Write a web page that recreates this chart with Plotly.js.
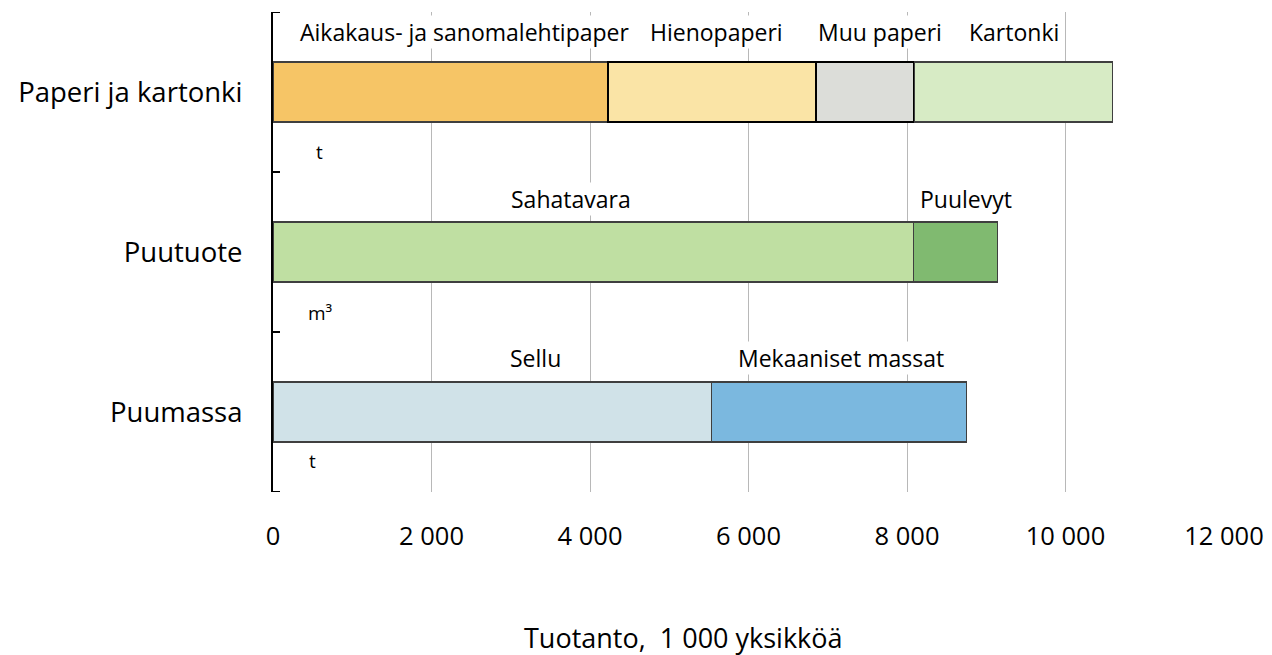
<!DOCTYPE html>
<html>
<head>
<meta charset="utf-8">
<script src="https://cdn.plot.ly/plotly-3.0.1.min.js"></script>
<style>html,body{margin:0;padding:0;background:#fff;}#chart{width:1272px;height:655px;}</style>
</head>
<body>
<div id="chart"></div>
<script>
// ---- data ----
var categories = ['Paperi ja kartonki', 'Puutuote', 'Puumassa'];
var units = ['t', 'm³', 't'];

var paperSegments = ['Aikakaus- ja sanomalehtipaper', 'Hienopaperi', 'Muu paperi', 'Kartonki'];
var paperValues = [4230, 2625, 1237, 2500];

var woodSegments = ['Sahatavara', 'Puulevyt'];
var woodValues = [8080, 1060];

var pulpSegments = ['Sellu', 'Mekaaniset massat'];
var pulpValues = [5530, 3220];

var xTickValues = [0, 2000, 4000, 6000, 8000, 10000, 12000];
var xTickLabels = ['0', '2 000', '4 000', '6 000', '8 000', '10 000', '12 000'];

var axisTitle = 'Tuotanto,  1 000 yksikköä';

// ---- styles ----
var FONT = '"Open Sans", "Noto Sans", sans-serif';
var groups = [
  {cat: categories[0], names: paperSegments, values: paperValues,
   colors: ['#F6C566', '#FAE4A6', '#DCDDD9', '#D7EBC5'],
   lines: [['#3f3f3f', 1.5], ['#000000', 2], ['#000000', 2], ['#3f3f3f', 1.5]],
   labelShift: [24, 4, 15, 1], labelY: 60},
  {cat: categories[1], names: woodSegments, values: woodValues,
   colors: ['#BFDFA2', '#80BA70'],
   lines: [['#3f3f3f', 1.5], ['#3f3f3f', 1.5]],
   labelShift: [-22, 11], labelY: 53},
  {cat: categories[2], names: pulpSegments, values: pulpValues,
   colors: ['#D0E2E8', '#7BB8DF'],
   lines: [['#3f3f3f', 1.5], ['#3f3f3f', 1.5]],
   labelShift: [43, 2], labelY: 54}
];
var unitShift = [[46, -60], [47, -61], [39, -49]];

var traces = [];
var annotations = [];
groups.forEach(function (g) {
  var cum = 0;
  g.names.forEach(function (n, i) {
    traces.push({
      type: 'bar', orientation: 'h',
      y: [g.cat], x: [g.values[i]], name: n,
      marker: {color: g.colors[i], line: {color: g.lines[i][0], width: g.lines[i][1]}},
      width: 0.375, hoverinfo: 'x+name'
    });
    annotations.push({
      x: cum + g.values[i] / 2, y: g.cat, xref: 'x', yref: 'y',
      text: n, showarrow: false, xanchor: 'center', yanchor: 'middle',
      xshift: g.labelShift[i], yshift: g.labelY,
      bgcolor: '#ffffff', borderpad: 0,
      font: {family: FONT, size: 23, color: '#000'}
    });
    cum += g.values[i];
  });
});
categories.forEach(function (c, i) {
  annotations.push({
    x: 0, y: c, xref: 'x', yref: 'y', text: units[i], showarrow: false,
    xanchor: 'center', yanchor: 'middle', xshift: unitShift[i][0], yshift: unitShift[i][1],
    font: {family: FONT, size: 19, color: '#000'}
  });
});
var L = 273, R = 48, T = 12, B = 163, W = 1272, H = 655;
annotations.push({
  x: (683 - L) / (W - L - R), y: (H - B - 637) / (H - T - B),
  xref: 'paper', yref: 'paper', text: axisTitle, showarrow: false,
  xanchor: 'center', yanchor: 'middle',
  font: {family: FONT, size: 27, color: '#000'}
});

// end ticks of the category axis (boundaries)
var tickFrac = 7 / (W - L - R);
var shapes = [-0.5, categories.length - 0.5].map(function (b) {
  return {type: 'line', xref: 'paper', yref: 'y', x0: 0, x1: tickFrac, y0: b, y1: b,
          line: {color: '#000', width: 2}};
});

var layout = {
  width: W, height: H,
  margin: {l: L, r: R, t: T, b: B},
  paper_bgcolor: '#fff', plot_bgcolor: '#fff',
  barmode: 'stack', showlegend: false,
  xaxis: {
    range: [0, 12000], tickvals: xTickValues, ticktext: xTickLabels,
    showgrid: true, gridcolor: '#b8b8b8', gridwidth: 1, zeroline: false,
    showline: false, ticks: '', ticklabelstandoff: 26,
    tickfont: {family: FONT, size: 25.5, color: '#000'}
  },
  yaxis: {
    type: 'category', categoryorder: 'array', categoryarray: categories,
    range: [2.5, -0.5], showgrid: false, zeroline: false,
    showline: true, linecolor: '#000', linewidth: 2,
    ticks: 'inside', tickson: 'boundaries', ticklen: 7, tickwidth: 2, tickcolor: '#000',
    ticklabelstandoff: 23,
    tickfont: {family: FONT, size: 27.5, color: '#000'}
  },
  shapes: shapes,
  annotations: annotations
};

Plotly.newPlot('chart', traces, layout, {displayModeBar: false, staticPlot: true});
</script>
</body>
</html>
